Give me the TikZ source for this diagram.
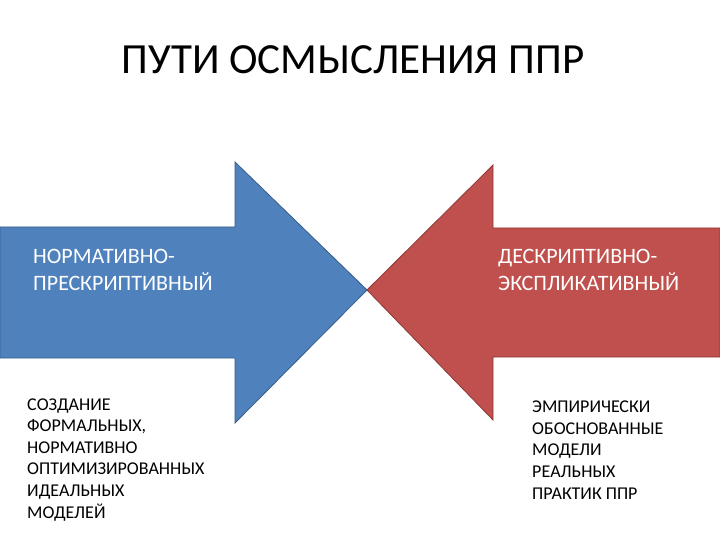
\documentclass[tikz,border=0pt]{standalone}
\usepackage{fontspec}
\setmainfont{Carlito}
\definecolor{arrblue}{HTML}{4F81BD}
\definecolor{arrblueedge}{HTML}{385D8A}
\definecolor{arrred}{HTML}{C0504D}
\definecolor{arrrededge}{HTML}{8C3836}
\tikzset{
  heading/.style={anchor=base,inner sep=0pt,font=\fontsize{43}{50}\selectfont},
  arrlabel/.style={anchor=base west,inner sep=0pt,align=left,text=white,
    font=\fontsize{22}{27}\selectfont},
  note/.style={anchor=base west,inner sep=0pt,align=left,
    font=\fontsize{18}{21.6}\selectfont}
}

\begin{document}
\begin{tikzpicture}[x=1pt,y=-1pt]
\useasboundingbox (0,0) rectangle (720,540);
\fill[white] (0,0) rectangle (720,540);
\node[heading] (title) at (353,74) {ПУТИ ОСМЫСЛЕНИЯ ППР};
% left arrow
\filldraw[fill=arrblue,draw=arrblueedge,line width=.8pt]
  (0,227) -- (235,227) -- (235,162) -- (367,290) -- (235,423) -- (235,358) -- (0,358) -- cycle;
% right arrow
\filldraw[fill=arrred,draw=arrrededge,line width=.8pt]
  (720,228) -- (493,228) -- (493,165) -- (367,290) -- (493,420) -- (493,357) -- (720,357) -- cycle;
% base anchor = baseline of the last line
\node[arrlabel] (norm) at (33,290) {НОРМАТИВНО-\\ПРЕСКРИПТИВНЫЙ};
\node[arrlabel] (descr) at (498,290) {ДЕСКРИПТИВНО-\\ЭКСПЛИКАТИВНЫЙ};
\node[note] (normtext) at (27,518) {СОЗДАНИЕ\\ФОРМАЛЬНЫХ,\\НОРМАТИВНО\\ОПТИМИЗИРОВАННЫХ\\ИДЕАЛЬНЫХ\\МОДЕЛЕЙ};
\node[note] (descrtext) at (532,499) {ЭМПИРИЧЕСКИ\\ОБОСНОВАННЫЕ\\МОДЕЛИ\\РЕАЛЬНЫХ\\ПРАКТИК ППР};
\end{tikzpicture}
\end{document}
